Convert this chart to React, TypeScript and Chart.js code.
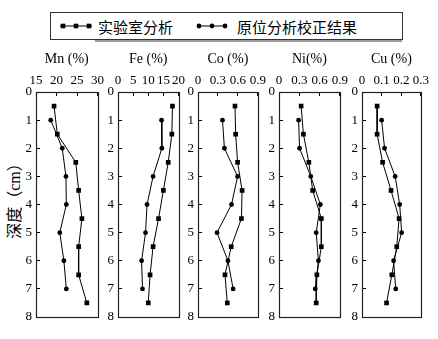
import React, { useEffect, useRef } from "react";
import { Chart, registerables } from "chart.js";

Chart.register(...registerables);

// ---- data ----
const depthLab = [0.5, 1.5, 2.5, 3.5, 4.5, 5.5, 6.5, 7.5];
const depthInSitu = [1, 2, 3, 4, 5, 6, 7];

const elementTitles = ["Mn (%)", "Fe (%)", "Co (%)", "Ni(%)", "Cu (%)"];

const mnLab = [19.4, 20.2, 24.7, 25.4, 26.2, 25.4, 25.4, 27.4];
const mnInSitu = [18.6, 21.4, 22.3, 22.4, 20.8, 21.8, 22.4];
const feLab = [18.0, 17.8, 16.6, 15.0, 13.4, 11.6, 10.6, 10.0];
const feInSitu = [14.4, 14.5, 11.6, 9.6, 9.1, 7.8, 8.1];
const coLab = [0.556, 0.566, 0.595, 0.663, 0.653, 0.499, 0.406, 0.44];
const coInSitu = [0.368, 0.397, 0.595, 0.504, 0.286, 0.45, 0.528];
const niLab = [0.327, 0.361, 0.441, 0.498, 0.626, 0.626, 0.56, 0.55];
const niInSitu = [0.29, 0.304, 0.47, 0.611, 0.55, 0.583, 0.536];
const cuLab = [0.077, 0.077, 0.105, 0.148, 0.189, 0.177, 0.152, 0.125];
const cuInSitu = [0.1, 0.115, 0.169, 0.192, 0.202, 0.161, 0.172];

const labSeries = [mnLab, feLab, coLab, niLab, cuLab];
const inSituSeries = [mnInSitu, feInSitu, coInSitu, niInSitu, cuInSitu];

const xMin = [15, 0, 0, 0, 0];
const xMax = [30, 20, 0.9, 0.9, 0.3];
const xStep = [5, 5, 0.3, 0.3, 0.1];
const yMin = 0;
const yMax = 8;
const yStep = 1;

const legendLab = "实验室分析";
const legendInSitu = "原位分析校正结果";
const yTitle = "深度（cm）";

// ---- layout ----
const boxLeft = [36, 118, 198, 279, 362];
const boxWidth = [62, 61, 62, 63, 61];
const Y_AXIS_W = 34;
const RIGHT_PAD = 14;
const H = 339;

const SERIF = "'Liberation Serif', 'Times New Roman', serif";
const CJK = "'Liberation Serif', 'Noto Sans CJK SC', sans-serif";

const boxPlugin = {
  id: "panelBox",
  beforeDatasetsDraw(chart: any) {
    const { ctx, chartArea: a } = chart;
    ctx.save();
    ctx.strokeStyle = "#222";
    ctx.lineWidth = 1.2;
    ctx.strokeRect(
      Math.round(a.left) + 0.5,
      Math.round(a.top) + 0.5,
      Math.round(a.right - a.left),
      Math.round(a.bottom - a.top)
    );
    ctx.restore();
  },
};

function fmt(v: number) {
  return String(Math.round(v * 1000) / 1000);
}

function Panel({ i }: { i: number }) {
  const ref = useRef<HTMLCanvasElement>(null);
  useEffect(() => {
    const lab = labSeries[i];
    const ins = inSituSeries[i];
    const tickGrid = {
      display: true,
      drawOnChartArea: false,
      drawTicks: true,
      tickLength: -4,
      color: "#000",
      lineWidth: 1,
    };
    const chart = new Chart(ref.current as HTMLCanvasElement, {
      type: "line",
      data: {
        datasets: [
          {
            label: legendLab,
            data: depthLab.map((d, k) => ({ x: lab[k], y: d })),
            borderColor: "#000",
            backgroundColor: "#000",
            borderWidth: 1,
            pointStyle: "rect",
            pointRadius: 3.3,
            pointBorderWidth: 0,
            tension: 0,
          },
          {
            label: legendInSitu,
            data: depthInSitu.map((d, k) => ({ x: ins[k], y: d })),
            borderColor: "#000",
            backgroundColor: "#000",
            borderWidth: 1,
            pointStyle: "circle",
            pointRadius: 2.4,
            pointBorderWidth: 0,
            tension: 0,
          },
        ],
      },
      options: {
        responsive: false,
        animation: false,
        devicePixelRatio: 1,
        layout: { padding: { top: 40, right: RIGHT_PAD, bottom: 22, left: 0 } },
        plugins: { legend: { display: false }, tooltip: { enabled: false } },
        scales: {
          x: {
            type: "linear",
            position: "top",
            min: xMin[i],
            max: xMax[i],
            ticks: {
              stepSize: xStep[i],
              autoSkip: false,
              maxRotation: 0,
              minRotation: 0,
              padding: 8,
              color: "#000",
              font: { family: SERIF, size: 13 },
              callback: (v: any) => fmt(Number(v)),
            },
            grid: tickGrid,
            border: { display: false },
            title: {
              display: true,
              text: elementTitles[i],
              color: "#000",
              font: { family: SERIF, size: 14 },
              padding: { top: 11, bottom: 0 },
            },
            afterFit: (s: any) => {
              s.height = 52;
            },
          },
          y: {
            type: "linear",
            reverse: true,
            min: yMin,
            max: yMax,
            ticks: {
              stepSize: yStep,
              padding: 8,
              color: "#000",
              font: { family: SERIF, size: 13 },
            },
            grid: tickGrid,
            border: { display: false },
            afterFit: (s: any) => {
              s.width = Y_AXIS_W;
            },
          },
        },
      } as any,
      plugins: [boxPlugin],
    });
    return () => chart.destroy();
  }, [i]);
  return (
    <canvas
      ref={ref}
      width={Y_AXIS_W + boxWidth[i] + RIGHT_PAD}
      height={H}
      style={{ position: "absolute", left: boxLeft[i] - Y_AXIS_W, top: 0 }}
    />
  );
}

export default function App() {
  return (
    <div
      style={{
        position: "absolute",
        left: 0,
        top: 0,
        width: 438,
        height: H,
        background: "#fff",
        overflow: "hidden",
      }}
    >
      <div
        style={{
          position: "absolute",
          left: 50,
          top: 12,
          width: 351,
          height: 26,
          border: "1px solid #333",
        }}
      />
      <div
        style={{
          position: "absolute",
          left: 95,
          top: 40,
          width: 307,
          height: 2,
          background: "#999",
        }}
      />
      <svg width={438} height={50} style={{ position: "absolute", left: 0, top: 0 }}>
        <line x1={60} y1={26} x2={92} y2={26} stroke="#000" strokeWidth={1} />
        {[63, 76, 89].map((x) => (
          <rect key={x} x={x - 2.3} y={23.7} width={4.6} height={4.6} fill="#000" />
        ))}
        <line x1={197} y1={26} x2={227} y2={26} stroke="#000" strokeWidth={1} />
        {[199, 212, 225].map((x) => (
          <circle key={x} cx={x} cy={26} r={2.4} fill="#000" />
        ))}
      </svg>
      <div style={{ position: "absolute", left: 98, top: 26, transform: "translateY(-50%)", fontFamily: CJK, fontSize: 15, whiteSpace: "nowrap", color: "#000" }}>
        {legendLab}
      </div>
      <div style={{ position: "absolute", left: 237, top: 26, transform: "translateY(-50%)", fontFamily: CJK, fontSize: 15, whiteSpace: "nowrap", color: "#000" }}>
        {legendInSitu}
      </div>
      <div style={{ position: "absolute", left: 13, top: 197, transform: "translate(-50%, -50%) rotate(-90deg)", fontFamily: CJK, fontSize: 16, whiteSpace: "nowrap", color: "#000" }}>
        {yTitle}
      </div>
      {boxLeft.map((_, i) => (
        <Panel key={i} i={i} />
      ))}
    </div>
  );
}
